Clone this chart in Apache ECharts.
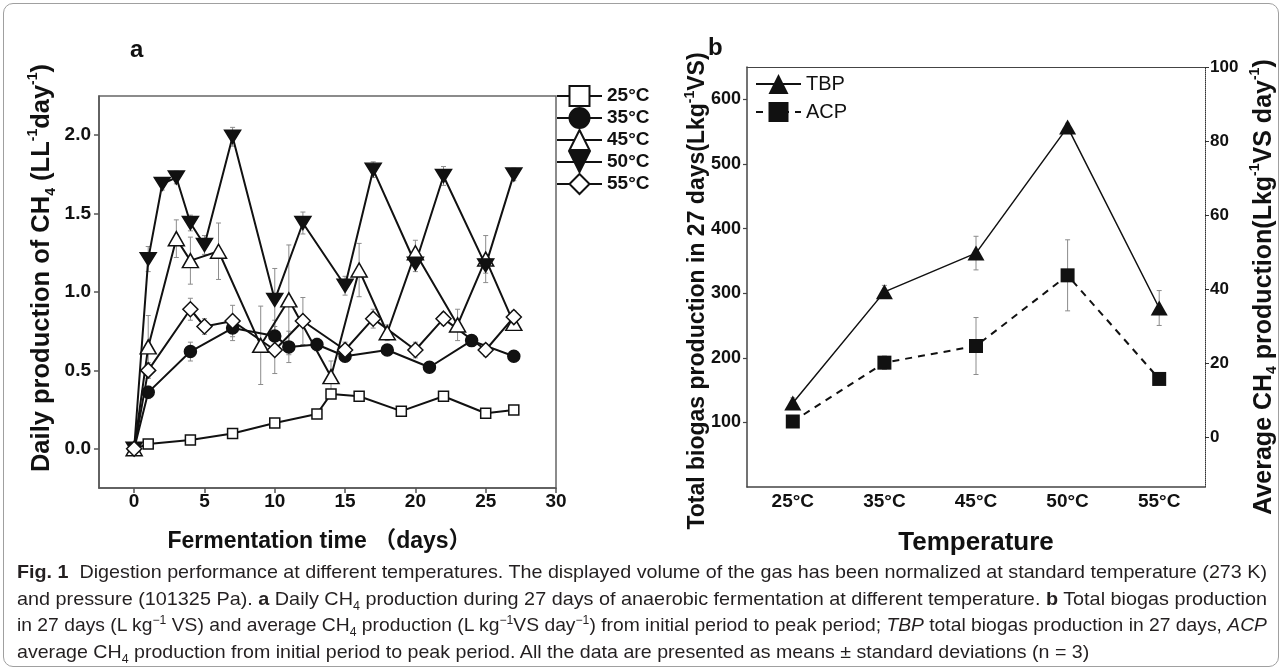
<!DOCTYPE html>
<html>
<head>
<meta charset="utf-8">
<script src="https://cdn.jsdelivr.net/npm/echarts@6/dist/echarts.min.js"></script>
<style>
  html, body { margin: 0; padding: 0; background: #fff; }
  #frame { position: absolute; left: 3px; top: 3px; width: 1276px; height: 664px; border: 1px solid #a0a0a0; border-radius: 10px; box-sizing: border-box; }
  #chart { position: absolute; left: 0; top: 0; width: 1282px; height: 670px; }
  #caption { position: absolute; left: 17px; top: 559px; width: 1250px; font-family: "Liberation Sans", Arial, sans-serif; font-size: 19px; line-height: 26.7px; color: #231f20; }
  #caption .row { white-space: nowrap; height: 26.7px; }
  #caption .ln { display: inline-block; transform-origin: 0 50%; }
  #caption sub, #caption sup { font-size: 12px; line-height: 0; }
</style>
</head>
<body>
<div id="frame"></div>
<div id="chart"></div>
<div id="caption">
  <div class="row"><span class="ln"><b>Fig. 1</b>&nbsp; Digestion performance at different temperatures. The displayed volume of the gas has been normalized at standard temperature (273 K)</span></div>
  <div class="row"><span class="ln">and pressure (101325 Pa). <b>a</b> Daily CH<sub>4</sub> production during 27 days of anaerobic fermentation at different temperature. <b>b</b> Total biogas production</span></div>
  <div class="row"><span class="ln">in 27 days (L kg<sup>−1</sup> VS) and average CH<sub>4</sub> production (L kg<sup>−1</sup>VS day<sup>−1</sup>) from initial period to peak period; <i>TBP</i> total biogas production in 27 days, <i>ACP</i></span></div>
  <div class="row"><span class="ln">average CH<sub>4</sub> production from initial period to peak period. All the data are presented as means ± standard deviations (n = 3)</span></div>
</div>
<script>
// panel a: daily CH4 production (days, mean, sd)
const days25 = [0, 1, 4, 7, 10, 13, 14, 16, 19, 22, 25, 27];
const vals25 = [0, 0.03, 0.056, 0.097, 0.164, 0.222, 0.35, 0.335, 0.24, 0.335, 0.227, 0.248];
const err25 = [0, 0.01, 0.01, 0.01, 0.015, 0.015, 0.02, 0.01, 0.015, 0.01, 0.02, 0.02];

const days35 = [0, 1, 4, 7, 10, 11, 13, 15, 18, 21, 24, 27];
const vals35 = [0, 0.36, 0.62, 0.77, 0.72, 0.65, 0.665, 0.59, 0.63, 0.52, 0.69, 0.59];
const err35 = [0, 0.04, 0.06, 0.08, 0.1, 0.1, 0.04, 0.03, 0.03, 0.02, 0.03, 0.03];

const days45 = [0, 1, 3, 4, 6, 9, 11, 14, 16, 18, 20, 23, 25, 27];
const vals45 = [0, 0.65, 1.34, 1.2, 1.26, 0.66, 0.95, 0.46, 1.14, 0.74, 1.25, 0.79, 1.21, 0.8];
const err45 = [0, 0.2, 0.12, 0.15, 0.18, 0.25, 0.35, 0.1, 0.17, 0.05, 0.08, 0.1, 0.15, 0.04];

const days50 = [0, 1, 2, 3, 4, 5, 7, 10, 12, 15, 17, 20, 22, 25, 27];
const vals50 = [0, 1.21, 1.69, 1.73, 1.44, 1.3, 1.99, 0.95, 1.44, 1.04, 1.78, 1.18, 1.74, 1.17, 1.75];
const err50 = [0, 0.08, 0.04, 0.04, 0.05, 0.06, 0.06, 0.2, 0.07, 0.06, 0.05, 0.05, 0.06, 0.05, 0.04];

const days55 = [0, 1, 4, 5, 7, 10, 12, 15, 17, 20, 22, 25, 27];
const vals55 = [0, 0.5, 0.89, 0.78, 0.815, 0.63, 0.815, 0.63, 0.83, 0.63, 0.83, 0.63, 0.84];
const err55 = [0, 0.05, 0.07, 0.05, 0.1, 0.15, 0.15, 0.05, 0.06, 0.05, 0.04, 0.04, 0.04];

const dayTicks = [0, 5, 10, 15, 20, 25, 30];
const dailyTicks = [0, 0.5, 1, 1.5, 2];

// panel b: totals per temperature
const tempCats = ['25°C', '35°C', '45°C', '50°C', '55°C'];
const tbp = [130, 302, 362, 557, 277];
const tbpErr = [8, 10, 26, 6, 27];
const acp = [4.2, 20.1, 24.6, 43.7, 15.7];
const acpErr = [0.6, 1.8, 7.7, 9.6, 1.5];
const tbpTicks = [100, 200, 300, 400, 500, 600];
const acpTicks = [0, 20, 40, 60, 80, 100];

const FONT = 'Liberation Sans, Arial, Noto Sans CJK SC, sans-serif';
const INK = '#111';

// fit the caption rows to the column width, like the condensed journal face
(function fitCaption() {
  const spans = Array.from(document.querySelectorAll('#caption .ln'));
  const widths = spans.map((s) => s.getBoundingClientRect().width);
  const scales = widths.slice(0, 3).map((w) => 1250 / w);
  const avg = scales.reduce((a, b) => a + b, 0) / scales.length;
  spans.forEach((s, i) => { s.style.transform = 'scaleX(' + (i < 3 ? scales[i] : avg) + ')'; });
})();

const chart = echarts.init(document.getElementById('chart'), null, { renderer: 'canvas' });

const pairs = (xs, ys) => xs.map((x, i) => [x, ys[i]]);
const triples = (xs, ys, es) => xs.map((x, i) => [x, ys[i], es[i]]);

function errorBars(data, xAxisIndex, yAxisIndex) {
  return {
    type: 'custom',
    xAxisIndex: xAxisIndex,
    yAxisIndex: yAxisIndex,
    silent: true,
    z: 1,
    renderItem: function (params, api) {
      const x = api.value(0), y = api.value(1), e = api.value(2);
      if (!e) return null;
      const hi = api.coord([x, y + e]);
      const lo = api.coord([x, y - e]);
      const w = 2.5;
      const st = { stroke: '#8c8c8c', lineWidth: 1 };
      return {
        type: 'group',
        children: [
          { type: 'line', shape: { x1: hi[0], y1: hi[1], x2: lo[0], y2: lo[1] }, style: st },
          { type: 'line', shape: { x1: hi[0] - w, y1: hi[1], x2: hi[0] + w, y2: hi[1] }, style: st },
          { type: 'line', shape: { x1: lo[0] - w, y1: lo[1], x2: lo[0] + w, y2: lo[1] }, style: st }
        ]
      };
    },
    data: data
  };
}

function dailyLine(name, xs, ys, symbol, size, fill, rotate) {
  return {
    name: name,
    type: 'line',
    xAxisIndex: 0,
    yAxisIndex: 0,
    data: pairs(xs, ys),
    symbol: symbol,
    symbolSize: size,
    symbolRotate: rotate || 0,
    showAllSymbol: true,
    z: 3,
    lineStyle: { color: INK, width: 2 },
    itemStyle: { color: fill, borderColor: INK, borderWidth: 1.5 }
  };
}

const tickLabel = (size) => ({ color: INK, fontFamily: FONT, fontWeight: 'bold', fontSize: size });

function richTitle(size) {
  return {
    t: { fontFamily: FONT, fontWeight: 'bold', fontSize: size, fill: INK, lineHeight: size + 6 },
    s: { fontFamily: FONT, fontWeight: 'bold', fontSize: 14, fill: INK, verticalAlign: 'bottom', lineHeight: 14 },
    p: { fontFamily: FONT, fontWeight: 'bold', fontSize: 14, fill: INK, verticalAlign: 'top', lineHeight: 14 }
  };
}

function sideTitle(text, x, y, size) {
  return {
    type: 'text', x: x, y: y, rotation: Math.PI / 2, silent: true,
    style: { text: text, rich: richTitle(size), align: 'center', verticalAlign: 'middle' }
  };
}

const option = {
  animation: false,
  backgroundColor: 'transparent',
  grid: [
    { left: 99, top: 96, width: 457, height: 392, show: true, borderColor: '#666', borderWidth: 1.5 },
    { left: 747, top: 67, width: 458, height: 420 }
  ],
  graphic: [
    { type: 'text', left: 130, top: 38, style: { text: 'a', fontFamily: FONT, fontWeight: 'bold', fontSize: 24, fill: INK } },
    { type: 'text', left: 708, top: 36, style: { text: 'b', fontFamily: FONT, fontWeight: 'bold', fontSize: 24, fill: INK } },
    sideTitle('{t|Daily production of CH}{s|4}{t| (LL}{p|-1}{t|day}{p|-1}{t|)}', 42, 268, 25.5),
    sideTitle('{t|Total biogas production in 27 days(Lkg}{p|-1}{t|VS)}', 698, 291, 23),
    sideTitle('{t|Average CH}{s|4}{t| production(Lkg}{p|-1}{t|VS day}{p|-1}{t|)}', 1264, 287, 25)
  ],
  legend: [
    {
      data: ['25°C', '35°C', '45°C', '50°C', '55°C'],
      orient: 'vertical',
      left: 551,
      top: 80,
      itemWidth: 45,
      itemHeight: 25,
      itemGap: 0,
      textStyle: { color: INK, fontFamily: FONT, fontWeight: 'bold', fontSize: 19 }
    },
    {
      data: ['TBP', 'ACP'],
      orient: 'vertical',
      left: 750,
      top: 69,
      itemWidth: 45,
      itemHeight: 25,
      itemGap: 8,
      textStyle: { color: INK, fontFamily: FONT, fontSize: 20 }
    }
  ],
  xAxis: [
    {
      gridIndex: 0, type: 'value', min: -2.5, max: 30,
      splitLine: { show: false },
      axisLine: { onZero: false, lineStyle: { color: '#555', width: 1.5 } },
      axisTick: { customValues: dayTicks, length: 5, lineStyle: { color: '#555', width: 1.5 } },
      axisLabel: { customValues: dayTicks, margin: 4, ...tickLabel(19) },
      name: 'Fermentation time （days）', nameLocation: 'middle', nameGap: 42,
      nameTextStyle: { color: INK, fontFamily: FONT, fontWeight: 'bold', fontSize: 23, padding: [0, 16, 0, 0] }
    },
    {
      gridIndex: 1, type: 'category', data: tempCats, boundaryGap: true,
      axisLine: { onZero: false, lineStyle: { color: '#444', width: 1.5 } },
      axisTick: { show: false },
      axisLabel: { margin: 5, ...tickLabel(19) },
      name: 'Temperature', nameLocation: 'middle', nameGap: 43,
      nameTextStyle: { color: INK, fontFamily: FONT, fontWeight: 'bold', fontSize: 26 }
    },
    {
      gridIndex: 1, type: 'category', data: tempCats, position: 'top',
      axisLine: { onZero: false, lineStyle: { color: '#444', width: 1.2 } },
      axisTick: { show: false }, axisLabel: { show: false }
    }
  ],
  yAxis: [
    {
      gridIndex: 0, type: 'value', min: -0.25, max: 2.25,
      splitLine: { show: false },
      axisLine: { show: true, onZero: false, lineStyle: { color: '#555', width: 1.5 } },
      axisTick: { show: true, customValues: dailyTicks, length: 5, lineStyle: { color: '#555', width: 1.5 } },
      axisLabel: { customValues: dailyTicks, margin: 8, formatter: (v) => v.toFixed(1), ...tickLabel(19) }
    },
    {
      gridIndex: 1, type: 'value', min: 0, max: 650, position: 'left',
      splitLine: { show: false },
      axisLine: { show: true, onZero: false, lineStyle: { color: '#444', width: 1.5 } },
      axisTick: { show: true, customValues: tbpTicks, length: 4, lineStyle: { color: '#444', width: 1.2 } },
      axisLabel: { customValues: tbpTicks, margin: 6, ...tickLabel(18) }
    },
    {
      gridIndex: 1, type: 'value', min: -13.5, max: 100, position: 'right',
      splitLine: { show: false },
      axisLine: { show: true, onZero: false, lineStyle: { color: '#333', width: 1, type: 'dotted' } },
      axisTick: { show: true, customValues: acpTicks, length: 4, lineStyle: { color: '#333', width: 1 } },
      axisLabel: { customValues: acpTicks, margin: 5, ...tickLabel(17) }
    }
  ],
  series: [
    errorBars(triples(days25, vals25, err25), 0, 0),
    errorBars(triples(days35, vals35, err35), 0, 0),
    errorBars(triples(days45, vals45, err45), 0, 0),
    errorBars(triples(days50, vals50, err50), 0, 0),
    errorBars(triples(days55, vals55, err55), 0, 0),
    dailyLine('25°C', days25, vals25, 'rect', 10, '#fff'),
    dailyLine('35°C', days35, vals35, 'circle', 12, INK),
    dailyLine('45°C', days45, vals45, 'triangle', [16, 14], '#fff'),
    dailyLine('50°C', days50, vals50, 'triangle', [16, 13], INK, 180),
    dailyLine('55°C', days55, vals55, 'diamond', 15, '#fff'),
    errorBars(triples([0, 1, 2, 3, 4], tbp, tbpErr), 1, 1),
    errorBars(triples([0, 1, 2, 3, 4], acp, acpErr), 1, 2),
    {
      name: 'TBP', type: 'line', xAxisIndex: 1, yAxisIndex: 1, data: tbp,
      symbol: 'triangle', symbolSize: [17, 15], z: 3,
      lineStyle: { color: INK, width: 1.5 },
      itemStyle: { color: INK }
    },
    {
      name: 'ACP', type: 'line', xAxisIndex: 1, yAxisIndex: 2, data: acp,
      symbol: 'rect', symbolSize: 14, z: 3,
      lineStyle: { color: INK, width: 2, type: [7, 6] },
      itemStyle: { color: INK }
    }
  ]
};

chart.setOption(option);
window.addEventListener('resize', () => chart.resize());
</script>
</body>
</html>
